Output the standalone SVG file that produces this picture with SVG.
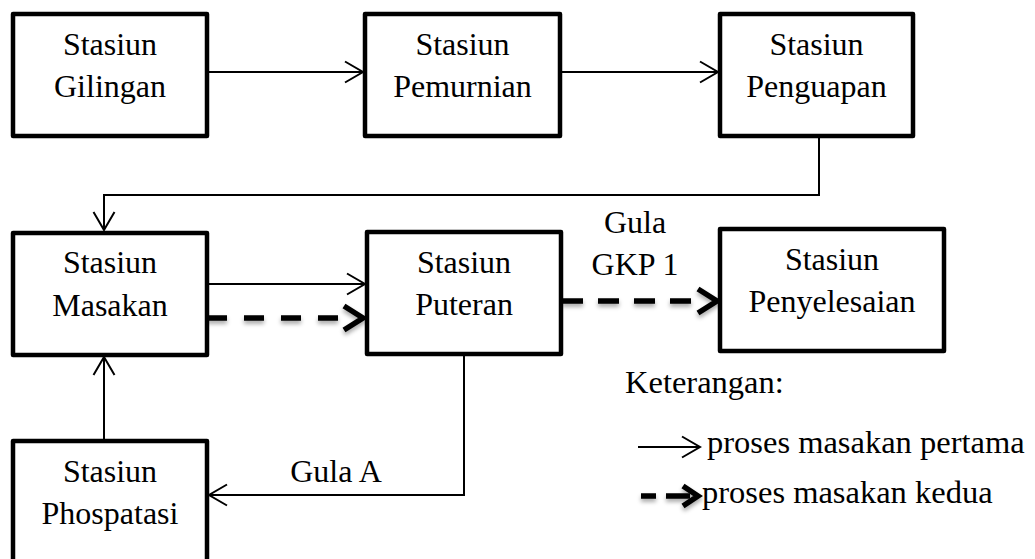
<svg xmlns="http://www.w3.org/2000/svg" width="1035" height="559" viewBox="0 0 1035 559" font-family="'Liberation Serif', 'Times New Roman', serif">
  <style>
    .box { fill: #fff; stroke: #000; stroke-width: 4.5; stroke-linejoin: round; }
    text { font-family: "Liberation Serif", "Times New Roman", serif; fill: #000; }
    .nodetext { font-size: 32px; text-anchor: middle; }
    .legtext { font-size: 32.5px; }
    .thin { fill: none; stroke: #000; stroke-width: 2; }
    .thick { fill: none; stroke: #000; stroke-width: 5.5; }
    .dash1 { stroke-dasharray: 20 17; }
    .dash2 { stroke-dasharray: 21 15; }
    .head { fill: none; stroke: #000; stroke-width: 5.5; stroke-linejoin: miter; stroke-linecap: butt; }
  </style>
  <defs>
    <marker id="open" markerUnits="userSpaceOnUse" markerWidth="22" markerHeight="24" viewBox="-2 -12 22 24" refX="18" refY="0" orient="auto">
      <path d="M0,-10.5 L18,0 L0,10.5" fill="none" stroke="#000" stroke-width="2"/>
    </marker>
    <filter id="shadow" x="-10%" y="-50%" width="120%" height="250%">
      <feDropShadow dx="0" dy="3" stdDeviation="2" flood-color="#000" flood-opacity="0.35"/>
    </filter>
  </defs>

  <g id="connectors">
    <path class="thin" d="M209,72 H363" marker-end="url(#open)"/>
    <path class="thin" d="M562,72 H718" marker-end="url(#open)"/>
    <path class="thin" d="M819,138 V195 H104 V230" marker-end="url(#open)"/>
    <path class="thin" d="M209,284 H365" marker-end="url(#open)"/>
    <path class="thin" d="M104,439 V357" marker-end="url(#open)"/>
    <path class="thin" d="M464,356 V495 H209" marker-end="url(#open)"/>
    <g filter="url(#shadow)">
      <path class="thick dash1" d="M207,318 H339"/>
      <path class="head" d="M344,306 L363,318 L344,330"/>
      <path class="thick dash2" d="M562,301 H692"/>
      <path class="head" d="M698,289 L717,301 L698,313"/>
    </g>
  </g>

  <g id="gilingan">
    <rect class="box" x="13" y="14" width="194" height="122"/>
    <text class="nodetext" x="110" y="55">Stasiun</text>
    <text class="nodetext" x="110" y="97">Gilingan</text>
  </g>
  <g id="pemurnian">
    <rect class="box" x="365" y="14" width="195" height="122"/>
    <text class="nodetext" x="462.5" y="55">Stasiun</text>
    <text class="nodetext" x="462.5" y="97">Pemurnian</text>
  </g>
  <g id="penguapan">
    <rect class="box" x="720" y="14" width="193" height="122"/>
    <text class="nodetext" x="816.5" y="55">Stasiun</text>
    <text class="nodetext" x="816.5" y="97">Penguapan</text>
  </g>
  <g id="masakan">
    <rect class="box" x="13" y="233" width="194" height="122"/>
    <text class="nodetext" x="110" y="273">Stasiun</text>
    <text class="nodetext" x="110" y="316">Masakan</text>
  </g>
  <g id="puteran">
    <rect class="box" x="367" y="232" width="194" height="122"/>
    <text class="nodetext" x="464" y="273">Stasiun</text>
    <text class="nodetext" x="464" y="315">Puteran</text>
  </g>
  <g id="penyelesaian">
    <rect class="box" x="720" y="229" width="224" height="122"/>
    <text class="nodetext" x="832" y="270">Stasiun</text>
    <text class="nodetext" x="832" y="312">Penyelesaian</text>
  </g>
  <g id="phospatasi">
    <rect class="box" x="13" y="441" width="194" height="140"/>
    <text class="nodetext" x="110" y="482">Stasiun</text>
    <text class="nodetext" x="110" y="524">Phospatasi</text>
  </g>

  <g id="edge-labels">
    <text class="nodetext" x="635" y="233">Gula</text>
    <text class="nodetext" x="635" y="275">GKP 1</text>
    <text class="nodetext" x="336" y="482">Gula A</text>
  </g>

  <g id="legend">
    <text class="legtext" x="625" y="393">Keterangan:</text>
    <path class="thin" d="M638,447 H700" marker-end="url(#open)"/>
    <text class="legtext" x="707" y="453">proses masakan pertama</text>
    <g filter="url(#shadow)">
      <path class="thick" d="M641,496 H656 M666,496 H690"/>
      <path class="head" d="M683,486 L698,496 L683,506"/>
    </g>
    <text class="legtext" x="702" y="503">proses masakan kedua</text>
  </g>
</svg>
